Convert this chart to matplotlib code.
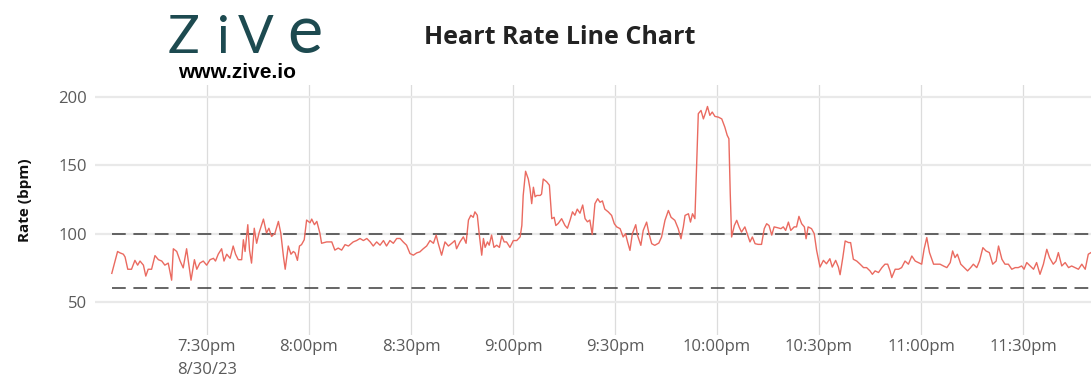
import matplotlib
matplotlib.use("Agg")
import matplotlib.pyplot as plt

# minutes after 7:00pm on 8/30/23
minutes_a = [2.0, 3.7, 4.4, 5.4, 5.9, 6.7, 7.8, 8.8, 9.6, 10.3,
             11.3, 12.0, 12.7, 13.7, 14.7, 15.7, 16.7, 17.6, 18.6, 19.6,
             20.1, 21.1, 22.1, 23.0, 24.0, 25.3, 26.3, 27.0, 27.9, 28.9,
             29.9, 30.9, 31.9, 32.5, 33.3, 34.3, 35.0, 35.8, 36.8, 37.7,
             38.4, 39.2, 40.2, 40.7, 41.2, 42.0, 42.5, 43.1, 43.9, 44.6,
             45.3, 46.6, 47.5, 48.2, 49.0, 50.0, 51.0, 51.7, 52.5, 53.0,
             53.9, 54.7, 55.4, 55.9, 56.6, 57.2, 57.8, 58.6, 59.3, 60.3,
             60.8, 61.6, 62.3, 63.2, 63.7, 65.2, 66.7, 67.6, 68.6, 69.6,
             70.6, 71.6, 73.0]
bpm_a = [71, 87, 86, 85, 83, 74, 74, 80.5, 77, 80,
         77, 69, 74, 74, 84, 81, 80, 77, 78.5, 66,
         89, 87, 80, 75, 89, 66, 81, 74, 78.5, 80,
         77, 81, 82, 80, 85, 89, 80, 85, 82, 91,
         85, 81, 81, 95.6, 87, 106.6, 88, 78.5, 104, 93,
         100.5, 110.7, 100.5, 104, 98, 100.5, 109, 100.5, 83, 74,
         91, 85, 87, 86, 80.5, 91, 92, 95.6, 110, 108,
         110.7, 106.6, 109, 100.5, 93, 94, 94, 88, 89.5, 88,
         92, 91, 94]

minutes_b = [74.0, 75.0, 76.0, 77.0, 78.0, 78.9, 79.9, 80.9, 81.9, 82.8,
             83.8, 84.8, 85.8, 86.8, 87.7, 88.7, 89.7, 90.7, 91.7, 92.6,
             93.6, 94.6, 95.6, 96.6, 97.4, 98.0, 99.0, 100.0, 101.0, 102.0,
             102.9, 103.4, 104.4, 105.4, 106.2, 106.9, 107.6, 108.3, 108.8, 109.5,
             110.1, 110.8, 111.3, 111.8, 112.5, 113.0, 113.7, 114.4, 115.2, 116.0,
             116.7, 117.4, 118.1, 119.1, 120.1, 121.1, 122.1, 122.6, 123.0, 123.7,
             124.5, 125.0, 125.5, 126.0, 126.5, 127.0, 128.0, 128.4, 128.9, 129.9,
             130.7, 131.4, 132.1, 132.6, 133.3, 134.3, 135.3, 136.0, 136.8, 137.5,
             138.2, 138.9, 139.7, 140.5, 141.2, 141.9, 142.6, 143.3]
bpm_b = [95, 96.5, 95, 96.5, 94, 91, 94, 91.6, 95, 91,
         95, 93, 96.5, 96.5, 94, 91.6, 85.5, 84.3, 86, 86.7,
         89, 91, 95, 93, 99, 93, 84.3, 94, 91, 93,
         95, 89, 94, 97.7, 93, 110, 113.5, 112, 116, 113.5,
         99, 84.3, 96.5, 90, 94, 91.6, 99, 90, 91.6, 90,
         98.4, 94, 94, 90, 95, 95, 97.7, 106, 128, 145.7,
         140, 133, 122, 134, 127, 128, 128, 129, 140, 138,
         135.5, 111, 112, 106, 107.5, 111, 106, 104, 110, 116,
         113.5, 118, 115, 121, 111, 108.7, 110, 99.4]

minutes_c = [144.1, 144.9, 145.6, 146.3, 147.0, 148.0, 149.0, 149.8, 150.5, 151.5,
             152.4, 153.1, 153.7, 154.4, 155.1, 156.1, 156.6, 157.6, 158.3, 159.3,
             160.0, 160.8, 161.7, 162.9, 163.7, 164.7, 165.7, 166.5, 167.6, 168.6,
             169.4, 170.1, 170.6, 171.6, 172.2, 172.8, 173.5, 174.0, 174.5, 175.3,
             176.0, 176.7, 177.2, 177.9, 178.6, 179.4, 180.4, 181.4, 182.3, 183.0,
             183.5, 183.9, 184.3, 185.1, 185.8, 186.5, 187.2, 188.2, 189.0, 189.7,
             190.4, 191.2, 192.1, 193.1, 193.9, 194.6, 195.3, 196.1, 196.8, 197.8,
             198.8, 199.5, 200.2, 201.0, 201.7, 202.7, 203.4, 204.1, 204.9, 205.7,
             206.2, 206.8, 207.8, 208.6, 209.3, 210.3, 211.3, 212.2, 213.2, 213.9,
             214.9, 215.7]
bpm_c = [122, 125.6, 123, 124, 118, 116, 113.4, 107.3, 105, 103.7,
         97.6, 100, 94, 87.8, 100, 106.6, 99, 91.5, 102.4, 108.5,
         100, 92.7, 91.5, 93.2, 97.6, 109.8, 117, 112, 109.8, 103.7,
         96.3, 105, 113.4, 114.6, 108.5, 114.6, 111, 148.8, 187.8, 190.2,
         184, 189, 193.1, 186.6, 189, 185.8, 185.3, 184, 178, 172,
         169.5, 129, 97.6, 106, 109.8, 105, 101.2, 105, 99, 94,
         97.6, 92.7, 92.2, 92.2, 103.7, 107.3, 106, 99, 105, 104.4,
         103.7, 105, 102.4, 108.5, 102.4, 105, 105, 112.7, 107.3, 105,
         96.3, 105, 103.7, 100, 87.8, 75.6, 80.5, 78, 81.7, 75.6,
         80.5, 75.6]

minutes_d = [216.2, 217.0, 217.7, 218.7, 219.3, 220.1, 221.1, 222.1, 223.1, 224.0,
             225.0, 225.7, 226.5, 227.5, 228.5, 229.4, 230.2, 230.9, 231.4, 232.4,
             233.4, 234.3, 235.3, 236.3, 237.3, 238.3, 239.2, 240.2, 240.9, 241.7,
             242.5, 243.7, 244.6, 245.6, 246.6, 247.6, 248.6, 249.3, 250.0, 250.7,
             251.7, 252.7, 253.7, 254.6, 255.4, 256.4, 257.2, 258.2, 259.1, 260.1,
             261.1, 262.1, 262.8, 263.8, 264.7, 265.7, 266.7, 267.7, 268.6, 269.6,
             270.3, 271.1, 272.1, 273.1, 274.0, 275.0, 276.0, 277.0, 277.8, 278.9,
             279.7, 280.4, 281.4, 282.4, 283.4, 284.3, 285.3, 286.3, 287.3, 288.3,
             289.2, 290.0]
bpm_d = [70, 82.5, 94.7, 93.5, 93.5, 81.3, 80, 77.7, 75.2, 75.2,
         72.8, 70.3, 72.8, 71.6, 75.2, 77.7, 77.7, 72.8, 67.9, 74,
         74, 75.2, 80, 77.7, 83.7, 80, 78.9, 77.7, 88.6, 97.2,
         86.2, 77.7, 77.7, 77.7, 76.4, 75.2, 78.9, 87.4, 82.5, 85,
         77.7, 75.2, 72.8, 75.2, 77.7, 75.2, 80, 89.8, 87.4, 86.2,
         77.7, 80, 91, 81.3, 77.7, 77.7, 74, 75.2, 75.2, 76.4,
         74, 78.9, 76.4, 74, 78.9, 70.3, 77.7, 88.6, 82.5, 77.7,
         80, 86.2, 76.4, 78.9, 75.2, 76.4, 75.2, 74, 77.7, 74,
         85, 86.2]

minutes = minutes_a + minutes_b + minutes_c + minutes_d
bpm = bpm_a + bpm_b + bpm_c + bpm_d

tick_minutes = [30, 60, 90, 120, 150, 180, 210, 240, 270]
tick_labels = ["7:30pm\n8/30/23", "8:00pm", "8:30pm", "9:00pm", "9:30pm",
               "10:00pm", "10:30pm", "11:00pm", "11:30pm"]
y_ticks = [50, 100, 150, 200]
thresholds = [100, 60]

title = "Heart Rate Line Chart"
y_label = "Rate (bpm)"

W, H = 1091, 385
fig = plt.figure(figsize=(W / 100, H / 100), dpi=100)
ax = fig.add_axes([95 / W, 50 / H, 996 / W, 250 / H])

x_left, x_right = -2.94, 290.0
ax.set_xlim(x_left, x_right)
ax.set_ylim(25.9, 208.8)

for s in ax.spines.values():
    s.set_visible(False)

ax.set_yticks(y_ticks)
ax.set_xticks(tick_minutes)
ax.set_xticklabels(tick_labels)
ax.tick_params(axis="both", length=0, labelsize=12, labelcolor="#5a5a5a")
ax.tick_params(axis="y", pad=6)
ax.tick_params(axis="x", pad=3)
for lab in ax.get_xticklabels() + ax.get_yticklabels():
    lab.set_fontfamily("Open Sans")
    lab.set_linespacing(1.55)

ax.grid(False)
ax.yaxis.grid(True, color="#e9e9e9", linewidth=1.6)
ax.xaxis.grid(True, color="#dcdcdc", linewidth=0.9)
ax.set_axisbelow(True)

ax.hlines(thresholds, minutes[0], x_right, colors="#3c3c3c",
          linestyles=(0, (9, 5)), linewidth=1.1, zorder=2)

ax.plot(minutes, bpm, color="#ea6a60", linewidth=1.0, zorder=3)

fig.text(560 / W, 1 - 38 / H, title, ha="center", va="center",
         fontsize=18, fontweight="bold", color="#222222", family="Open Sans")
fig.text(25 / W, 1 - 200 / H, y_label, rotation=90, ha="center", va="center",
         fontsize=11, fontweight="bold", color="#111111", family="Open Sans")

# Zive logo
logo_color = "#1d4a50"
for ch, xc, fs in [("Z", 184, 38), ("i", 223, 38), ("V", 256, 38), ("e", 305, 48)]:
    fig.text(xc / W, 1 - 53 / H, ch, ha="center", va="baseline", fontsize=fs,
             fontweight="normal", color=logo_color, family=["Lato", "DejaVu Sans"])
fig.text(237 / W, 1 - 73 / H, "www.zive.io", ha="center", va="center",
         fontsize=15, fontweight="bold", color="#000000", family="Liberation Sans")

fig.savefig("out.png", dpi=100)
